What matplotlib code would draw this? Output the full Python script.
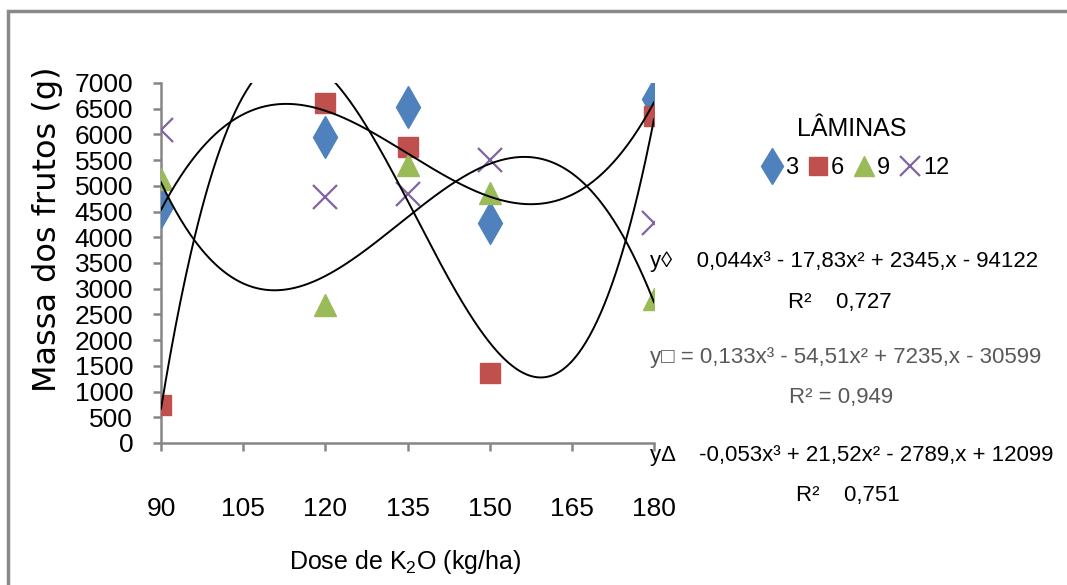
import numpy as np
import matplotlib
matplotlib.use("Agg")
import matplotlib.pyplot as plt
from matplotlib.lines import Line2D
from matplotlib.patches import Rectangle

# ---------------- data ----------------
doses = [90, 120, 135, 150, 180]
lamina_3 = [4590, 5950, 6540, 4280, 6680]
lamina_6 = [730, 6620, 5750, 1370, 6360]
lamina_9 = [5130, 2680, 5400, 4860, 2800]
lamina_12 = [6090, 4790, 4850, 5500, 4280]
series_names = ["3", "6", "9", "12"]
legend_title = "L\u00c2MINAS"
x_ticks = [90, 105, 120, 135, 150, 165, 180]
y_ticks = list(range(0, 7001, 500))
eq_texts = [
    "y\u25ca    0,044x\u00b3 - 17,83x\u00b2 + 2345,x - 94122",
    "R\u00b2    0,727",
    "y\u25a1 = 0,133x\u00b3 - 54,51x\u00b2 + 7235,x - 30599",
    "R\u00b2 = 0,949",
    "y\u0394    -0,053x\u00b3 + 21,52x\u00b2 - 2789,x + 12099",
    "R\u00b2    0,751",
]

FONT = ["Liberation Sans", "DejaVu Sans"]
plt.rcParams["font.family"] = FONT
plt.rcParams["mathtext.fontset"] = "custom"
plt.rcParams["mathtext.rm"] = "Liberation Sans"
plt.rcParams["mathtext.it"] = "Liberation Sans"

W, H = 1067, 585
fig = plt.figure(figsize=(W / 100, H / 100), dpi=100)

def fx(px):
    return px / W

def fy(py):
    return 1 - py / H

# outer chart border (cropped on right/bottom)
fig.patches.append(Rectangle((fx(8), -0.1), 1.2, fy(11) + 0.1, transform=fig.transFigure,
                             fill=False, edgecolor="#898989", linewidth=2.5))

ax = fig.add_axes([fx(161), fy(443), fx(654) - fx(161), fy(83) - fy(443)])
ax.set_xlim(90, 180)
ax.set_ylim(0, 7000)

colors = ["#4F81BD", "#C0504D", "#9BBB59", "#8064A2"]

ax.plot(doses, lamina_3, linestyle="none", marker="d", markersize=21, color=colors[0], zorder=3)
ax.plot(doses, lamina_6, linestyle="none", marker="s", markersize=15, color=colors[1], zorder=3)
ax.plot(doses, lamina_9, linestyle="none", marker="^", markersize=16, color=colors[2], zorder=3)
ax.plot(doses, lamina_12, linestyle="none", marker="x", markersize=17, markeredgewidth=1.6,
        color=colors[3], zorder=3)

# cubic trend lines for 3, 6 and 9
xs = np.linspace(90, 180, 400)
for vals in (lamina_3, lamina_6, lamina_9):
    coef = np.polyfit(doses, vals, 3)
    ax.plot(xs, np.polyval(coef, xs), color="black", linewidth=1.4, zorder=4)

for side in ("top", "right"):
    ax.spines[side].set_visible(False)
for side in ("left", "bottom"):
    ax.spines[side].set_color("#868686")
    ax.spines[side].set_linewidth(1.8)

ax.set_xticks(x_ticks)
ax.set_yticks(y_ticks)
ax.set_xticklabels([str(v) for v in x_ticks])
ax.set_yticklabels([str(v) for v in y_ticks])
ax.tick_params(axis="both", direction="out", length=6, width=1.8, color="#868686")
ax.tick_params(axis="x", labelsize=19, pad=33)
ax.tick_params(axis="y", labelsize=19, pad=14)

fig.text(fx(48), fy(229), "Massa dos frutos (g)", rotation=90, ha="center", va="center",
         fontsize=23, family=["DejaVu Sans"])
fig.text(fx(405), fy(562), "Dose de K$_2$O (kg/ha)", ha="center", va="center", fontsize=18)

# legend
fig.text(fx(852), fy(129), legend_title, ha="center", va="center", fontsize=18)
handles = [
    Line2D([], [], linestyle="none", marker="d", markersize=18, color=colors[0]),
    Line2D([], [], linestyle="none", marker="s", markersize=13, color=colors[1]),
    Line2D([], [], linestyle="none", marker="^", markersize=14, color=colors[2]),
    Line2D([], [], linestyle="none", marker="x", markersize=14, markeredgewidth=1.6, color=colors[3]),
]
fig.legend(handles, series_names, ncol=4, frameon=False,
           loc="center", bbox_to_anchor=(fx(856), fy(168)), fontsize=17,
           handlelength=0.8, handletextpad=0.15, columnspacing=0.45,
           borderpad=0, borderaxespad=0)

eq_pos = [(650, 261, "left", "black"), (840, 302, "center", "black"),
          (650, 357, "left", "#595959"), (841, 398, "center", "#595959"),
          (650, 455, "left", "black"), (848, 495, "center", "black")]
for txt, (px, py, ha, col) in zip(eq_texts, eq_pos):
    fig.text(fx(px), fy(py), txt, ha=ha, va="center", fontsize=16, color=col,
             family=FONT)

fig.savefig("out.png", dpi=100)
